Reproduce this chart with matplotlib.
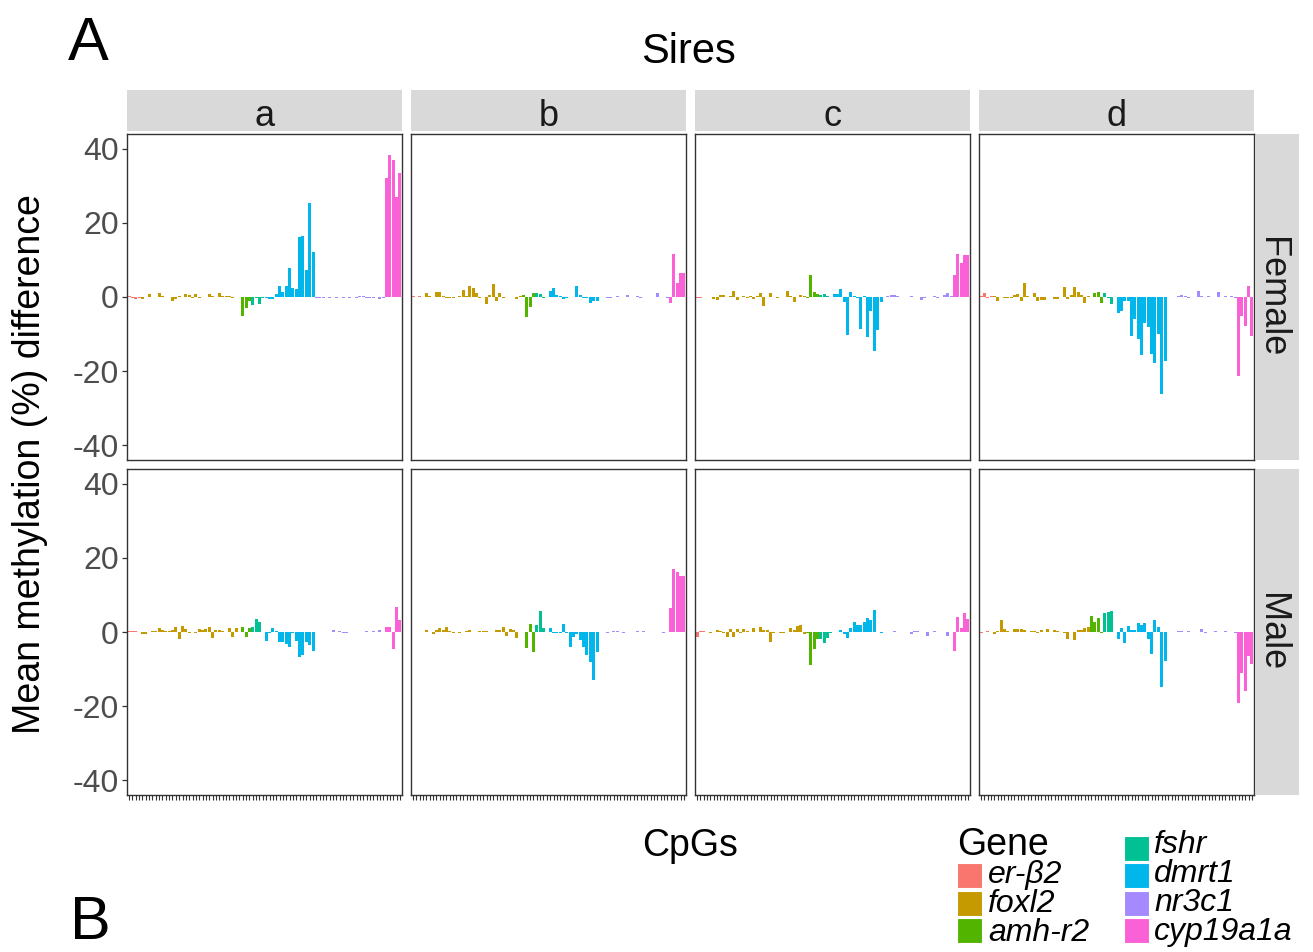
import matplotlib
matplotlib.use("Agg")
import matplotlib.pyplot as plt
from matplotlib.patches import Rectangle

plt.rcParams['font.family'] = ['Liberation Sans', 'DejaVu Sans']
plt.rcParams['axes.unicode_minus'] = False

# ---------------- data ----------------
genes = ["er-β2", "foxl2", "amh-r2", "fshr", "dmrt1", "nr3c1", "cyp19a1a"]
gene_counts = [4, 29, 4, 4, 15, 21, 5]
gene_colors = ["#F8766D", "#C49A00", "#53B400", "#00C094", "#00B6EB", "#A58AFF", "#FB61D7"]
sires = ["a", "b", "c", "d"]
sexes = ["Female", "Male"]
y_ticks = [-40, -20, 0, 20, 40]

female_a = [0.2, -0.4, -0.5, -0.2,
            -0.5, 0.0, 0.8, 0.1, 0.1, 1.0, 0.3, 0.1, 0.0, -1.0, -0.5, 0.2, 0.1, 0.8, 0.6,
            -0.4, 0.8, -0.3, -0.1, 0.1, 0.8, 0.3, 0.1, 1.1, 0.3, 0.2, 0.2, -0.3, 0.1,
            -0.1, -5.0, -2.9, -1.2,
            -2.2, -0.2, -2.0, -0.2,
            -0.3, -0.6, -0.6, 0.9, 2.9, 1.4, 3.1, 7.7, 2.5, 2.2, 16.3, 16.6, 7.3, 25.4, 12.2,
            -0.2, -0.2, -0.2, -0.1, -0.2, -0.1, -0.2, -0.1, -0.2, -0.1, -0.2, -0.1, -0.2, 0.3,
            0.2, -0.4, -0.2, -0.4, -0.1, -0.5, -0.2,
            32.2, 38.3, 36.9, 27.0, 33.5]
female_b = [0.2, 0.1, 0.2, 0.1,
            1.1, 0.3, 0.1, 1.3, 1.4, 0.2, -0.3, -0.3, -0.2, 0.1, 0.2, 1.8, 0.3, 3.0, 2.3,
            1.1, -0.3, 0.1, -1.8, 0.6, 3.5, -1.0, 1.0, -0.3, 0.1, 0.0, 0.1, -0.5, 0.4,
            0.5, -5.4, -2.7, 1.0,
            1.0, 0.8, -0.4, 0.1,
            1.5, 2.5, 0.5, 0.3, -0.5, -0.2, 0.0, 0.1, 3.1, 0.5, -0.3, -0.3, -1.5, -1.2, -1.2,
            0.1, 0.1, -0.3, -0.3, 0.1, 0.2, 0.1, 0.1, 0.5, 0.1, 0.1, 0.4, -0.4, 0.1,
            0.1, 0.1, 0.1, 1.1, 0.1, 0.1, -0.2,
            -1.7, 11.6, 3.9, 6.4, 6.4]
female_c = [-0.3, -0.3, -0.1, 0.1,
            0.1, -0.5, -0.7, 0.6, 0.6, 0.1, 0.2, 1.6, -0.8, 0.1, 0.3, -0.3, 0.3, -0.6, 0.3,
            1.0, -2.3, 0.1, 1.2, 0.0, -0.3, 0.0, 0.1, 1.6, 0.3, -1.4, 0.1, 0.6, 0.2,
            -0.3, 5.9, 1.3, 0.9,
            0.6, 0.8, 0.3, 0.1,
            0.8, 0.8, 2.2, -1.4, -10.2, 1.3, 0.3, -0.4, -8.6, 0.2, -10.9, -3.9, -14.5, -9.0, -1.4,
            0.1, 0.2, 0.5, 0.6, 0.2, 0.0, 0.1, 0.0, 0.2, 0.1, 0.0, -0.8, -0.2, 0.1,
            0.0, 0.4, -0.2, 0.1, 0.5, 1.1, 0.3,
            6.0, 11.6, 9.3, 11.3, 11.3]
female_d = [0.3, 1.1, -0.3, 0.4,
            0.4, -1.1, 0.1, -0.4, -0.4, -0.3, 0.6, 0.9, -1.1, 3.9, 0.2, 0.1, 1.1, -1.1, -0.9,
            -0.9, 0.1, 0.1, -0.5, -0.5, 0.1, 2.6, -0.5, 0.6, 2.6, 1.4, 0.6, -1.7, 0.2,
            0.1, 1.2, 1.4, -1.7,
            1.1, -0.2, -1.8, -0.1,
            -4.4, -3.8, -1.1, -1.1, -10.4, -6.0, -11.3, -15.6, -7.1, -8.1, -15.4, -17.9, -10.0, -26.3, -17.4,
            0.0, 0.1, 0.1, 0.3, 0.5, 0.4, -0.3, 0.1, 0.1, 1.6, 0.3, 0.0, 0.2, 0.0,
            0.0, 1.4, 0.1, 0.2, 0.1, 0.2, -0.3,
            -21.3, -5.2, -7.7, 3.0, -10.4]
male_a = [0.4, 0.4, 0.3, 0.0,
          -0.5, -0.5, 0.1, 0.3, 0.4, 1.1, 0.6, 0.4, 0.2, 0.5, 1.3, -1.8, 1.6, 0.7, -0.3,
          0.0, -0.3, 0.7, 0.6, 0.9, 1.3, -1.7, 0.6, 0.5, 0.2, 0.1, 1.1, -1.4, 1.1,
          0.1, 1.4, -1.4, 1.2,
          1.4, 3.4, 2.6, 0.1,
          -2.3, -0.3, 1.2, 0.2, -2.6, -2.6, -3.2, -4.1, -0.3, -2.3, -6.7, -6.3, -2.6, -3.6, -5.0,
          0.1, 0.0, -0.1, 0.1, 0.1, 0.6, 0.1, 0.3, -0.2, -0.2, 0.0, 0.0, 0.0, 0.0,
          0.0, 0.2, 0.1, 0.2, 0.1, 0.6, 0.1,
          1.3, 1.3, -4.5, 6.7, 3.2]
male_b = [0.1, 0.1, 0.1, 0.1,
          0.6, 0.1, -0.5, 0.5, 1.0, 0.5, 1.4, 0.4, -0.2, 0.1, -0.2, 0.1, 0.3, 0.5, 0.1,
          0.1, 0.2, 0.2, 0.3, 0.1, 0.1, 0.5, 0.6, 1.4, -1.1, 0.9, 0.5, -1.6, 0.0,
          0.0, -4.4, 2.1, -5.5,
          2.0, 5.6, 1.2, 0.1,
          1.1, -0.2, -0.3, -0.3, 2.2, -0.2, -4.1, -1.4, -0.5, -2.2, -4.1, -6.3, -8.1, -13.0, -5.4,
          0.1, 0.0, -0.2, 0.0, 0.2, 0.3, 0.1, -0.3, 0.0, 0.0, 0.1, 0.4, 0.1, 0.2,
          0.0, 0.0, 0.0, 0.1, 0.1, -0.2, 0.1,
          6.6, 17.1, 16.1, 15.1, 15.1]
male_c = [-1.3, 0.3, 0.3, 0.1,
          -0.4, 0.1, 0.6, 0.3, -0.4, -1.3, 0.9, -1.3, 0.9, -0.3, 0.7, 0.3, 0.0, 1.1, 0.1,
          1.4, 0.6, 0.6, -2.7, -0.2, 0.0, -0.3, -0.3, 0.0, 1.0, 0.5, 1.6, 1.8, -0.5,
          -0.2, -9.0, -4.6, -2.0,
          -2.0, -3.0, -1.6, -0.3,
          -0.1, 0.1, 0.5, -0.6, -1.7, 1.1, 2.8, 1.8, 1.9, 2.7, 3.8, 3.2, 6.0, 0.0, -0.3,
          0.0, 0.1, -0.1, 0.2, 0.1, 0.1, -0.1, 0.0, -0.5, 0.2, 0.3, 0.0, 0.0, -1.1,
          0.0, 0.2, 0.0, 0.0, 0.0, -1.1, 0.0,
          -5.1, 4.0, 1.1, 5.0, 3.6]
male_d = [-0.4, 0.1, 0.2, 0.1,
          -0.5, 0.2, 3.2, 0.8, 0.4, 0.1, 0.7, 0.7, 0.7, 0.6, 0.1, 0.4, 0.2, -0.2, 0.6,
          0.1, 0.8, 0.1, 0.5, 0.2, -0.1, -0.3, -1.8, 0.1, -2.1, 0.5, 0.6, 1.0, 1.4,
          4.3, 2.8, 3.9, -0.3,
          5.0, 5.3, 5.6, 0.0,
          -2.0, 1.0, -3.1, 1.6, 0.6, 0.6, 2.5, 1.8, 2.5, -2.0, -5.9, 3.3, 1.3, -14.8, -7.9,
          0.0, 0.0, 0.1, 0.4, 0.2, 0.1, 0.2, 0.0, 0.0, 0.1, 0.8, -0.4, 0.1, 0.1,
          0.2, 0.1, 0.1, 0.2, 0.1, 0.1, -0.3,
          -19.3, -11.2, -16.0, -6.5, -8.7]

panel_data = {("Female", "a"): female_a, ("Female", "b"): female_b,
              ("Female", "c"): female_c, ("Female", "d"): female_d,
              ("Male", "a"): male_a, ("Male", "b"): male_b,
              ("Male", "c"): male_c, ("Male", "d"): male_d}

# ---------------- layout ----------------
W, H = 1313, 952
fig = plt.figure(figsize=(W / 100, H / 100), dpi=100)
fig.patch.set_facecolor("white")


def rect(x0, y0, w, h):
    return [x0 / W, 1 - (y0 + h) / H, w / W, h / H]


col_x = [127, 411, 695, 979]
panel_w = 275
row_y = [134, 469]
panel_h = 326

bar_colors = []
for g, c in zip(gene_colors, gene_counts):
    bar_colors += [g] * c
n = len(bar_colors)
xs = list(range(1, n + 1))

tick_col = "#333333"
for r, sex in enumerate(sexes):
    for c, sire in enumerate(sires):
        ax = fig.add_axes(rect(col_x[c], row_y[r], panel_w, panel_h))
        vals = panel_data[(sex, sire)]
        ax.bar(xs, vals, width=0.9, color=bar_colors, linewidth=0)
        ax.set_xlim(0.4, n + 0.6)
        ax.set_ylim(-44, 44)
        for s in ax.spines.values():
            s.set_color(tick_col)
            s.set_linewidth(1.0)
        ax.set_yticks(y_ticks)
        ax.tick_params(axis="y", length=3.6, width=0.9, color=tick_col,
                       labelsize=23, labelcolor="#4D4D4D", pad=2.5)
        if c != 0:
            ax.tick_params(axis="y", length=0, labelleft=False)
        if r == 1:
            ax.set_xticks(xs)
            ax.set_xticklabels([])
            ax.tick_params(axis="x", length=3.6, width=0.8, color=tick_col)
        else:
            ax.set_xticks([])
        ax.set_facecolor("white")

# top strips
for c, sire in enumerate(sires):
    sax = fig.add_axes(rect(col_x[c], 90, panel_w, 41))
    sax.set_facecolor("#D9D9D9")
    sax.set_xticks([]); sax.set_yticks([])
    for s in sax.spines.values():
        s.set_visible(False)
    sax.text(0.5, 0.45, sire, ha="center", va="center_baseline", fontsize=26,
             color="#1A1A1A", transform=sax.transAxes)

# right strips
for r, sex in enumerate(sexes):
    sax = fig.add_axes(rect(1256, row_y[r], 43, panel_h))
    sax.set_facecolor("#D9D9D9")
    sax.set_xticks([]); sax.set_yticks([])
    for s in sax.spines.values():
        s.set_visible(False)
    sax.text(0.36, 0.5, sex, ha="center", va="center", fontsize=26,
             color="#1A1A1A", rotation=-90, transform=sax.transAxes)


def ftext(x, y, s, **kw):
    fig.text(x / W, 1 - y / H, s, **kw)


ftext(688, 52, "Sires", ha="center", va="center", fontsize=30)
ftext(690, 846, "CpGs", ha="center", va="center", fontsize=27)
ftext(30, 464, "Mean methylation (%) difference", ha="center", va="center",
      fontsize=27, rotation=90)
ftext(68, 60, "A", ha="left", va="baseline", fontsize=44)
ftext(70, 952, "B", ha="left", va="bottom", fontsize=44)

# legend
ftext(957, 845, "Gene", ha="left", va="center", fontsize=27)
key_pos = [(957, 863), (957, 891), (957, 918),
           (1124, 836), (1124, 863), (1124, 891), (1124, 918)]
for (kx, ky), col in zip(key_pos, gene_colors):
    fig.patches.append(Rectangle((kx / W, 1 - (ky + 25) / H), 25 / W, 25 / H,
                                 transform=fig.transFigure, facecolor=col,
                                 edgecolor="white", linewidth=0.8))
# labels as one block per legend column (baseline = last line)
ftext(988, 941, "\n".join(genes[:3]), ha="left", va="baseline", fontsize=23,
      style="italic", linespacing=0.955)
ftext(1154, 940, "\n".join(genes[3:]), ha="left", va="baseline", fontsize=23,
      style="italic", linespacing=0.955)

fig.savefig("out.png", dpi=100, facecolor="white")
